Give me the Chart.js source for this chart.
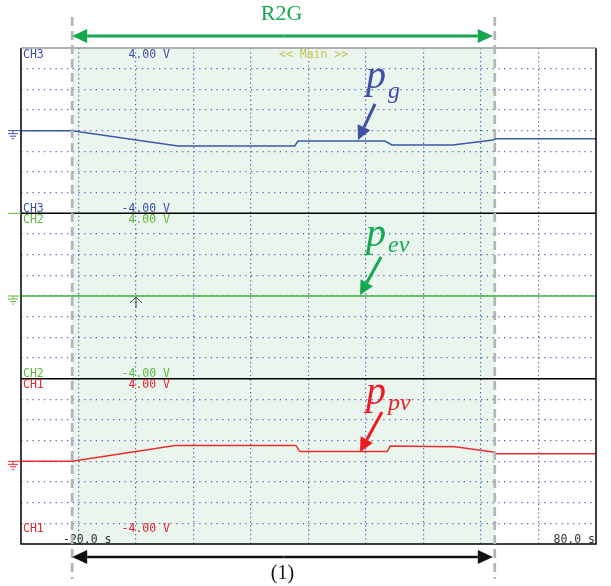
<!DOCTYPE html>
<html>
<head>
<meta charset="utf-8">
<script src="https://cdn.jsdelivr.net/npm/chart.js@4.4.1/dist/chart.umd.min.js"></script>
<style>
html, body { margin: 0; padding: 0; background: #fff; }
#wrap { width: 611px; height: 586px; }
</style>
</head>
<body>
<div id="wrap"><canvas id="scope" width="611" height="586"></canvas></div>
<script>
// scope settings: 10 s/div, 1 V/div on every channel
const timeRange = [-20, 80]
const voltRange = [-4, 4]
const r2gWindow = [-11.1, 62.4]   // start / end of the R2G interval (s)

// CH3 : p_g
const pgTime = [-20, -11.1, 7.3, 27.6, 28.2, 43.3, 44.5, 55.1, 62.1, 62.5, 80]
const pgVolt = [0, 0, -0.74, -0.74, -0.50, -0.50, -0.69, -0.69, -0.45, -0.39, -0.39]

// CH2 : p_ev
const pevTime = [-20, 80]
const pevVolt = [0, 0]

// CH1 : p_pv
const ppvTime = [-20, -11.1, 6.8, 27.8, 28.5, 43.7, 44.2, 55.5, 62.1, 62.6, 80]
const ppvVolt = [0, 0, 0.77, 0.77, 0.47, 0.47, 0.74, 0.70, 0.45, 0.37, 0.37]

const timeLabels = ['-20.0 s', '80.0 s']

const channels = [
    { axis: 'y3', name: 'CH3', color: '#3b4fa8', trace: '#3d5aa8', sym: 'p', sub: 'g', symColor: '#3f4fa3', bottomPad: 1.5,
      text: [366, 88], arrow: [375, 104, 358, 140] },
    { axis: 'y2', name: 'CH2', color: '#5cb83c', trace: '#3cb93c', sym: 'p', sub: 'ev', symColor: '#14a850', bottomPad: 2,
      text: [366, 245.5], arrow: [381, 257, 360, 295] },
    { axis: 'y1', name: 'CH1', color: '#e8232a', trace: '#ee2d2d', sym: 'p', sub: 'pv', symColor: '#ed1c24', bottomPad: 12.5,
      text: [366, 403.5], arrow: [382, 412, 360, 452] }
]

function toPoints(ts, vs) {
    return ts.map((t, i) => ({ x: t, y: vs[i] }))
}

function arrow(ctx, x1, y1, x2, y2, len, half) {
    const ang = Math.atan2(y2 - y1, x2 - x1)
    const bx = x2 - Math.cos(ang) * len, by = y2 - Math.sin(ang) * len
    ctx.beginPath()
    ctx.moveTo(x1, y1)
    ctx.lineTo(bx, by)
    ctx.stroke()
    ctx.beginPath()
    ctx.moveTo(x2, y2)
    ctx.lineTo(bx + Math.sin(ang) * half, by - Math.cos(ang) * half)
    ctx.lineTo(bx - Math.sin(ang) * half, by + Math.cos(ang) * half)
    ctx.closePath()
    ctx.fill()
}

const scopeDecor = {
    id: 'scopeDecor',
    beforeDraw(chart) {
        const ctx = chart.ctx, a = chart.chartArea, xs = chart.scales.x
        ctx.save()
        ctx.fillStyle = '#fff'
        ctx.fillRect(0, 0, chart.width, chart.height)
        const x0 = xs.getPixelForValue(r2gWindow[0]), x1 = xs.getPixelForValue(r2gWindow[1])
        ctx.fillStyle = '#eaf5ee'
        ctx.fillRect(x0, a.top, x1 - x0, a.bottom - a.top)
        ctx.restore()
    },
    afterDraw(chart) {
        const ctx = chart.ctx, a = chart.chartArea, xs = chart.scales.x
        const x0 = xs.getPixelForValue(r2gWindow[0]), x1 = xs.getPixelForValue(r2gWindow[1])
        ctx.save()

        // frame and panel separators
        ctx.strokeStyle = '#000'
        ctx.lineWidth = 1.5
        ctx.beginPath()
        ctx.moveTo(a.left, a.top)
        ctx.lineTo(a.left, a.bottom)
        ctx.lineTo(a.right, a.bottom)
        ctx.lineTo(a.right, a.top)
        ctx.stroke()
        ctx.strokeStyle = '#999'
        ctx.beginPath()
        ctx.moveTo(a.left, a.top)
        ctx.lineTo(a.right, a.top)
        ctx.stroke()
        ctx.strokeStyle = '#000'
        channels.slice(1).forEach(ch => {
            const s = chart.scales[ch.axis]
            ctx.beginPath()
            ctx.moveTo(a.left, s.top)
            ctx.lineTo(a.right, s.top)
            ctx.stroke()
        })

        // channel labels and ground symbols
        ctx.font = '11.5px "DejaVu Sans Mono"'
        channels.forEach(ch => {
            const s = chart.scales[ch.axis]
            ctx.fillStyle = ch.color
            ctx.textAlign = 'left'
            ctx.fillText(ch.name, a.left + 2, s.top + 9.5)
            ctx.fillText(ch.name, a.left + 2, s.bottom - ch.bottomPad)
            ctx.textAlign = 'right'
            ctx.fillText(voltRange[1].toFixed(2) + ' V', a.left + 149, s.top + 9.5)
            ctx.fillText(voltRange[0].toFixed(2) + ' V', a.left + 149, s.bottom - ch.bottomPad)

            const g = s.getPixelForValue(0)
            ctx.strokeStyle = ch.color
            ctx.lineWidth = 1
            ctx.beginPath()
            ctx.moveTo(8, g); ctx.lineTo(a.left, g)
            ctx.moveTo(13, g); ctx.lineTo(13, g + 3)
            ctx.moveTo(8, g + 3); ctx.lineTo(18, g + 3)
            ctx.moveTo(10, g + 5.5); ctx.lineTo(16, g + 5.5)
            ctx.moveTo(12, g + 8); ctx.lineTo(14, g + 8)
            ctx.stroke()
        })
        // CH2 marker at the top of its panel
        ctx.strokeStyle = channels[1].color
        ctx.beginPath()
        ctx.moveTo(8, chart.scales.y2.top); ctx.lineTo(a.left, chart.scales.y2.top)
        ctx.stroke()

        ctx.fillStyle = '#c5c456'
        ctx.textAlign = 'left'
        ctx.fillText('<< Main >>', a.left + 258, a.top + 9.5)

        ctx.fillStyle = '#333'
        ctx.fillText(timeLabels[0], a.left + 42, a.bottom - 1)
        ctx.textAlign = 'right'
        ctx.fillText(timeLabels[1], a.right - 1, a.bottom - 1)

        // trigger mark
        const tx = xs.getPixelForValue(0), ty = chart.scales.y2.getPixelForValue(0)
        ctx.strokeStyle = '#444'
        ctx.lineWidth = 1
        ctx.beginPath()
        ctx.moveTo(tx, ty + 1); ctx.lineTo(tx, ty + 12)
        ctx.moveTo(tx - 6, ty + 7); ctx.lineTo(tx, ty + 1); ctx.lineTo(tx + 6, ty + 7)
        ctx.stroke()

        // dashed limits of the R2G interval
        ctx.strokeStyle = '#b4b4b4'
        ctx.lineWidth = 2.7
        ctx.setLineDash([9, 5])
        ;[x0, x1].forEach(x => {
            ctx.beginPath()
            ctx.moveTo(x, 17); ctx.lineTo(x, 579)
            ctx.stroke()
        })
        ctx.setLineDash([])

        // R2G arrow
        ctx.strokeStyle = ctx.fillStyle = '#12a84b'
        ctx.lineWidth = 3
        const mid = (x0 + x1) / 2
        arrow(ctx, mid, 36, x0, 36, 15, 7)
        arrow(ctx, mid, 36, x1 - 2, 36, 15, 7)
        ctx.font = '22px "Liberation Serif"'
        ctx.textAlign = 'center'
        ctx.fillText('R2G', mid - 2, 20)

        // interval (1) arrow
        ctx.strokeStyle = ctx.fillStyle = '#111'
        ctx.lineWidth = 2.5
        arrow(ctx, mid, 557, x0, 557, 15, 7)
        arrow(ctx, mid, 557, x1 - 2, 557, 15, 7)
        ctx.font = '20px "Liberation Serif"'
        ctx.fillText('(1)', mid - 1, 579)

        // signal names
        channels.forEach(ch => {
            ctx.fillStyle = ctx.strokeStyle = ch.symColor
            ctx.textAlign = 'left'
            ctx.font = 'italic 40px "Liberation Serif"'
            ctx.fillText(ch.sym, ch.text[0], ch.text[1])
            ctx.font = 'italic 24px "Liberation Serif"'
            ctx.fillText(ch.sub, ch.text[0] + 22, ch.text[1] + (ch.sub === 'g' ? 10 : 6))
            ctx.lineWidth = 3
            arrow(ctx, ch.arrow[0], ch.arrow[1], ch.arrow[2], ch.arrow[3], 14, 7)
        })
        ctx.restore()
    }
}

const edgeTick = (lo, hi, color) => ctx =>
    (ctx.tick && (ctx.tick.value === lo || ctx.tick.value === hi)) ? 'rgba(0,0,0,0)' : color

function yAxis() {
    return {
        type: 'linear',
        position: 'left',
        stack: 'scope',
        stackWeight: 1,
        min: voltRange[0],
        max: voltRange[1],
        ticks: { display: false, stepSize: 1 },
        grid: { color: edgeTick(voltRange[0], voltRange[1], '#5566b8'), lineWidth: 1.2, drawTicks: false },
        border: { display: false, dash: [1.3, 4.45] },
        afterFit: s => { s.width = 0 }
    }
}

const datasets = [
    { label: 'p_g', yAxisID: 'y3', data: toPoints(pgTime, pgVolt), borderColor: channels[0].trace },
    { label: 'p_ev', yAxisID: 'y2', data: toPoints(pevTime, pevVolt), borderColor: channels[1].trace },
    { label: 'p_pv', yAxisID: 'y1', data: toPoints(ppvTime, ppvVolt), borderColor: channels[2].trace }
].map(d => Object.assign(d, { borderWidth: 1.5, pointRadius: 0, tension: 0, fill: false }))

new Chart(document.getElementById('scope').getContext('2d'), {
    type: 'line',
    data: { datasets: datasets },
    options: {
        responsive: false,
        animation: false,
        devicePixelRatio: 1,
        events: [],
        layout: { padding: { left: 21, right: 15, top: 48, bottom: 42 } },
        plugins: { legend: { display: false }, tooltip: { enabled: false } },
        scales: {
            x: {
                type: 'linear',
                min: timeRange[0],
                max: timeRange[1],
                ticks: { display: false, stepSize: 10 },
                grid: { color: edgeTick(timeRange[0], timeRange[1], '#5566b8'), lineWidth: 1.2, drawTicks: false },
                border: { display: false, dash: [1.3, 3] },
                afterFit: s => { s.height = 0 }
            },
            // stacked axes are placed bottom-up in listing order
            y1: yAxis(),
            y2: yAxis(),
            y3: yAxis()
        }
    },
    plugins: [scopeDecor]
})
</script>
</body>
</html>
